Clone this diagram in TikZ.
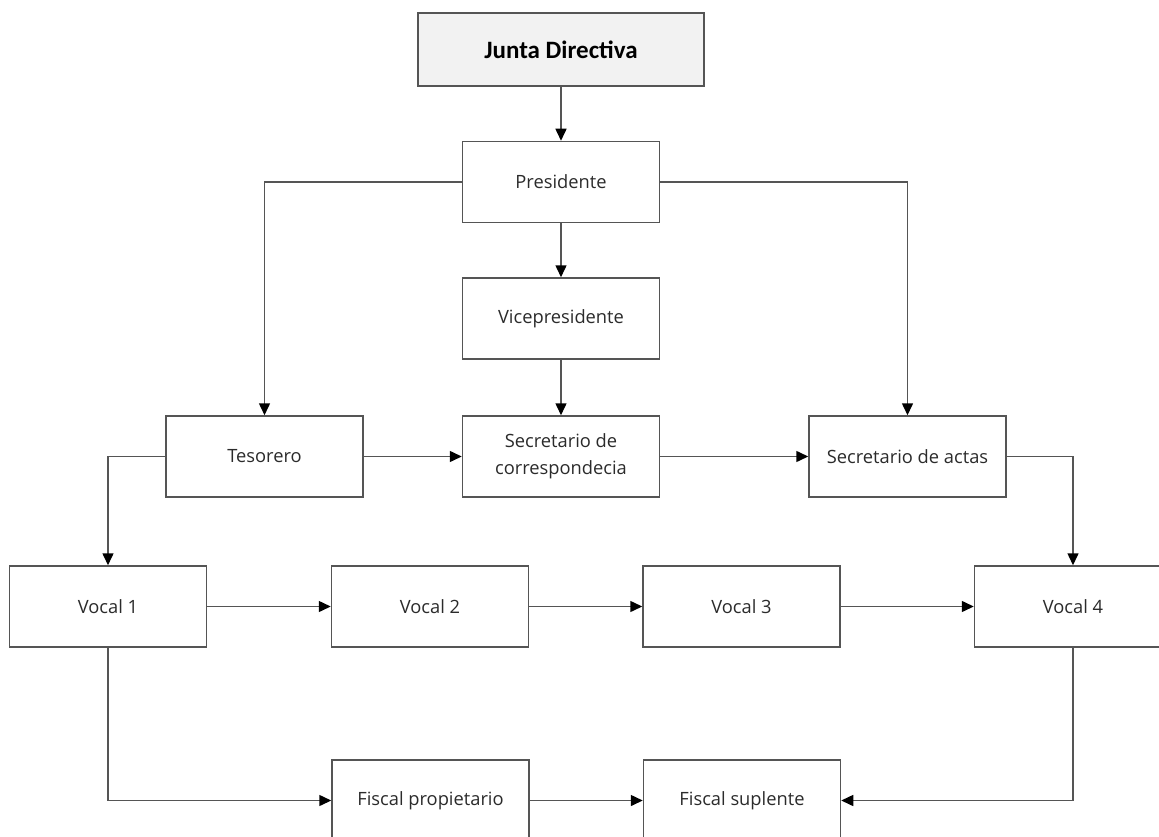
\documentclass[tikz,border=0pt]{standalone}
\usepackage{fontspec}
\setmainfont{Open Sans}
\newfontfamily\calibri{Carlito}
\usetikzlibrary{arrows.meta}
\definecolor{edgegray}{HTML}{555555}
\definecolor{txtgray}{HTML}{2B2B2B}
\definecolor{headfill}{HTML}{F2F2F2}
\begin{document}
\begin{tikzpicture}[x=1pt,y=-1pt,
  box/.style={draw=edgegray, line width=1.5pt, fill=white, rectangle,
    minimum width=197pt, minimum height=81pt, inner sep=0pt, align=center,
    text=txtgray, font=\fontsize{18.3}{27}\selectfont},
  headbox/.style={box, fill=headfill, minimum width=286pt, minimum height=73pt,
    text=black, font=\calibri\bfseries\fontsize{25}{28}\selectfont},
  conn/.style={draw=edgegray, line width=1.5pt,
    -{Triangle[length=12pt,width=11pt,color=black]}},
  plain/.style={draw=edgegray, line width=1.5pt}]
\useasboundingbox[fill=white] (0,0) rectangle (1159,837);

\node[headbox] (junta) at (561,49.5) {Junta Directiva};
\node[box] (pres) at (561,182) {Presidente};
\node[box] (vice) at (561,318.5) {Vicepresidente};
\node[box] (teso) at (264.5,456.5) {Tesorero};
\node[box] (scorr) at (561,456.5) {Secretario de\\correspondecia};
\node[box] (sact) at (907.5,456.5) {Secretario de actas};
\node[box] (v1) at (108,606.5) {Vocal 1};
\node[box] (v2) at (430,606.5) {Vocal 2};
\node[box] (v3) at (741.5,606.5) {Vocal 3};
\node[box] (v4) at (1073,606.5) {Vocal 4};
\node[box] (fp) at (430.5,800.5) {Fiscal propietario};
\node[box] (fs) at (742,800.5) {Fiscal suplente};

\draw[conn] (junta.south) -- (pres.north);
\draw[conn] (pres.west) -| (teso.north);
\draw[conn] (pres.east) -| (sact.north);
\draw[conn] (pres.south) -- (vice.north);
\draw[conn] (vice.south) -- (scorr.north);
\draw[conn] (teso.east) -- (scorr.west);
\draw[conn] (scorr.east) -- (sact.west);
\draw[conn] (teso.west) -| (v1.north);
\draw[conn] (sact.east) -| (v4.north);
\draw[conn] (v1.east) -- (v2.west);
\draw[conn] (v2.east) -- (v3.west);
\draw[conn] (v3.east) -- (v4.west);
\draw[conn] (v1.south) |- (fp.west);
\draw[conn] (fp.east) -- (fs.west);
\draw[conn] (v4.south) |- (fs.east);
\end{tikzpicture}
\end{document}
